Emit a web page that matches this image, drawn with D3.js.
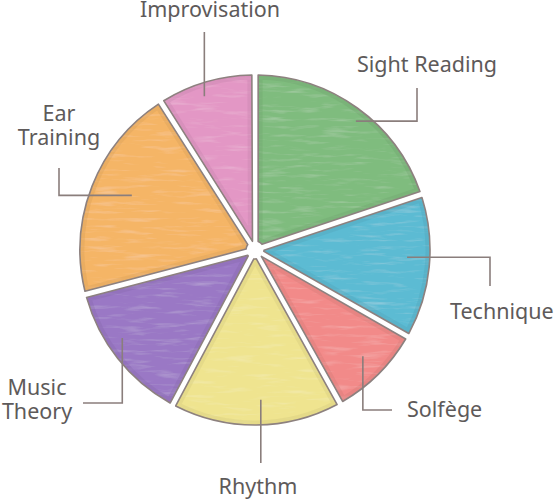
<!DOCTYPE html>
<html>
<head>
<meta charset="utf-8">
<script src="https://cdn.jsdelivr.net/npm/d3@7"></script>
<style>
  html, body { margin: 0; padding: 0; background: #fff; }
  svg { display: block; }
  text { font-family: "Noto Sans", "Open Sans", sans-serif; fill: #5e5a5a; }
</style>
</head>
<body>
<svg id="chart" width="555" height="500"></svg>
<script>
// ---- data ----
const categories = ["Sight Reading", "Technique", "Solfège", "Rhythm", "Music Theory", "Ear Training", "Improvisation"];
const values = [20.1, 13.3, 8.5, 15.9, 13.1, 20.3, 8.8];
const colors = ["#7fbc7e", "#5cbbd3", "#f28a89", "#efe48f", "#9a78c5", "#f5b566", "#e397c5"];
const labelLines = [["Sight Reading"], ["Technique"], ["Solfège"], ["Rhythm"], ["Music", "Theory"], ["Ear", "Training"], ["Improvisation"]];

// ---- layout ----
const W = 555, H = 500, cx = 255, cy = 250, R = 175;
// leader layout per label: da = angle tweak (deg), k = start radius fraction,
// legs = sequence of ["h"|"v", offset from centre], text = anchor/x/y (relative to centre)
const leaderLayout = [
  { da: 2.3,  k: 0.935, legs: [["h", 162], ["v", -162]], anchor: "middle", tx: 172, ty: -178 },
  { da: -2.8, k: 0.87,  legs: [["h", 235], ["v", 36]],   anchor: "start",  tx: 195, ty: 69 },
  { da: -0.7, k: 0.865, legs: [["v", 160], ["h", 137]],  anchor: "start",  tx: 152, ty: 167 },
  { da: -1.7, k: 0.857, legs: [["v", 213]],              anchor: "middle", tx: 3,   ty: 244 },
  { da: 4.8,  k: 0.91,  legs: [["v", 153], ["h", -172]], anchor: "middle", tx: -218, ty: 145 },
  { da: 2.5,  k: 0.77,  legs: [["h", -196], ["v", -82]], anchor: "middle", tx: -196, ty: -129 },
  { da: -2.0, k: 0.925, legs: [["v", -218]],             anchor: "middle", tx: -45, ty: -233 }
];

const data = categories.map((c, i) => ({ name: c, value: values[i], color: colors[i], lines: labelLines[i], lay: leaderLayout[i] }));

const svg = d3.select("#chart");
const defs = svg.append("defs");

// chalky texture filter
const f = defs.append("filter").attr("id", "chalk").attr("x", "-5%").attr("y", "-5%").attr("width", "110%").attr("height", "110%");
f.append("feTurbulence").attr("type", "fractalNoise").attr("baseFrequency", "0.03 0.25").attr("numOctaves", 3).attr("seed", 7).attr("result", "noise");
f.append("feColorMatrix").attr("in", "noise").attr("type", "matrix")
  .attr("values", "0 0 0 0 1  0 0 0 0 1  0 0 0 0 1  2.0 0 0 0 -1.05").attr("result", "white");
f.append("feComposite").attr("in", "white").attr("in2", "SourceGraphic").attr("operator", "in").attr("result", "specks");
f.append("feComponentTransfer").attr("in", "specks").attr("result", "specks2")
  .append("feFuncA").attr("type", "linear").attr("slope", 0.22);
const fm = f.append("feMerge");
fm.append("feMergeNode").attr("in", "SourceGraphic");
fm.append("feMergeNode").attr("in", "specks2");

const pie = d3.pie().value(d => d.value).sort(null).padAngle(0.036);
const arcs = pie(data);
const arc = d3.arc().innerRadius(9).outerRadius(R).padRadius(R);

const g = svg.append("g").attr("transform", `translate(${cx},${cy})`);

arcs.forEach((a, i) => {
  defs.append("clipPath").attr("id", "clip" + i).append("path").attr("d", arc(a));
});

const slice = g.selectAll("g.slice").data(arcs).join("g").attr("class", "slice");
slice.append("path")
  .attr("d", arc)
  .attr("fill", d => d.data.color)
  .attr("filter", "url(#chalk)");
slice.append("path")
  .attr("d", arc)
  .attr("fill", "none")
  .attr("stroke", d => d3.color(d.data.color).darker(0.45))
  .attr("stroke-opacity", 0.3)
  .attr("stroke-width", 9)
  .attr("clip-path", (d, i) => `url(#clip${i})`);
slice.append("path")
  .attr("d", arc)
  .attr("fill", "none")
  .attr("stroke", "#8d817f")
  .attr("stroke-width", 1.6)
  .attr("stroke-linejoin", "round");

// leaders
const toRad = Math.PI / 180;
arcs.forEach(a => {
  const L = a.data.lay;
  const ang = (a.startAngle + a.endAngle) / 2 + L.da * toRad;
  let x = Math.sin(ang) * R * L.k, y = -Math.cos(ang) * R * L.k;
  const pts = [[x, y]];
  L.legs.forEach(([dir, off]) => {
    if (dir === "h") x = off; else y = off;
    pts.push([x, y]);
  });
  g.append("path")
    .attr("d", d3.line()(pts))
    .attr("fill", "none")
    .attr("stroke", "#8a7e7c")
    .attr("stroke-width", 1.6);
  const t = g.append("text")
    .attr("text-anchor", L.anchor)
    .attr("font-size", 21.5)
    .attr("x", L.tx).attr("y", L.ty);
  a.data.lines.forEach((ln, j) => {
    t.append("tspan").attr("x", L.tx).attr("y", L.ty + j * 24).text(ln);
  });
});
</script>
</body>
</html>
